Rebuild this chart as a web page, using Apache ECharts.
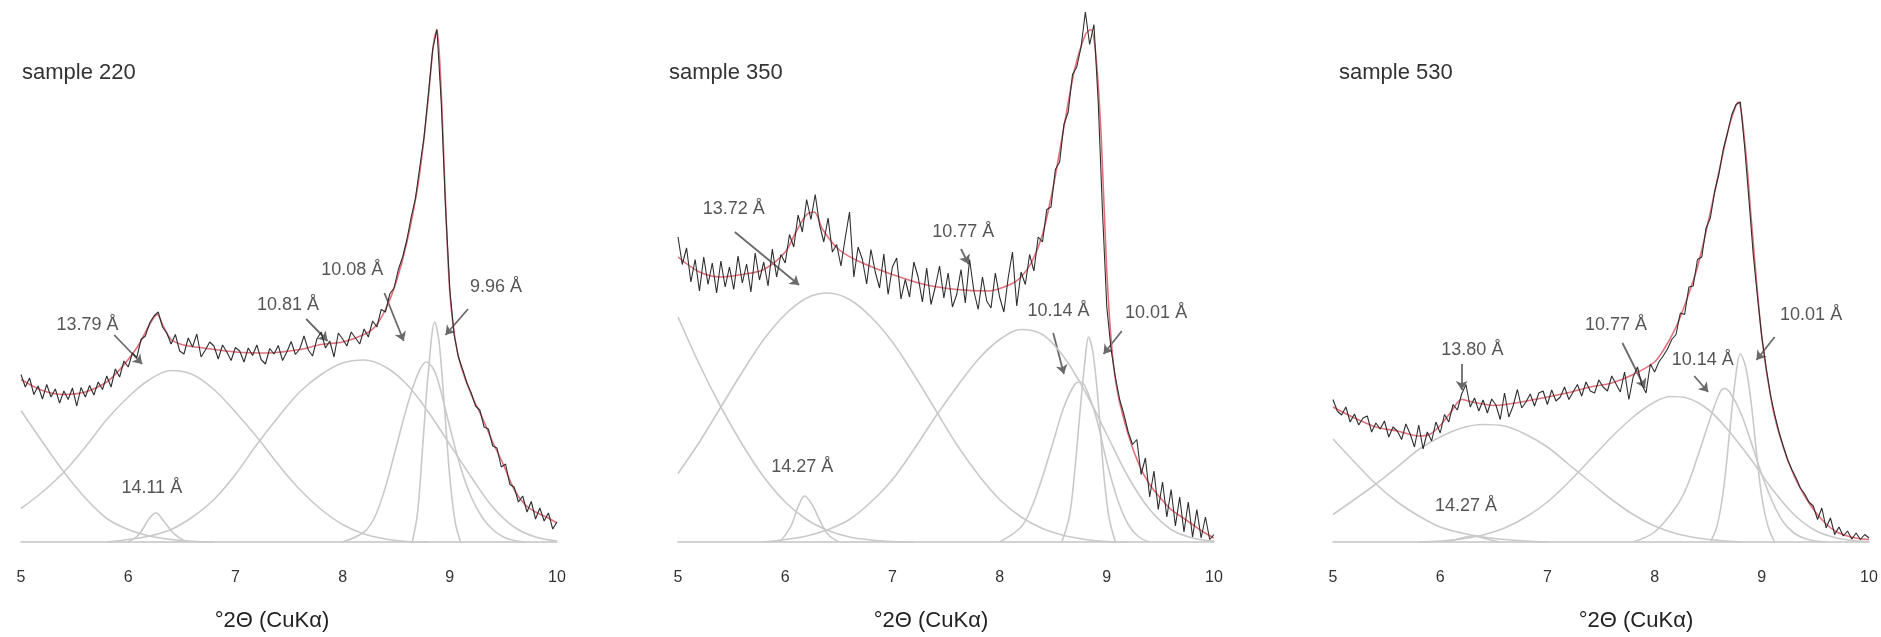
<!DOCTYPE html>
<html><head><meta charset="utf-8">
<script src="https://cdn.jsdelivr.net/npm/echarts@6/dist/echarts.min.js"></script>
<style>html,body{margin:0;padding:0;background:#fff}#c{width:1881px;height:637px}</style>
</head><body><div id="c"></div>
<script>
// ---------- data ----------
const xTicks = [5, 6, 7, 8, 9, 10];
const axisTitle = '°2Θ (CuKα)';
const sampleNames = ['sample 220', 'sample 350', 'sample 530'];
const scanStart = 5.0, scanStep = 0.04; // XRD scan grid of the observed patterns

const s220_obs = [33.5,31.0,32.8,29.5,31.2,28.6,31.5,29.0,30.6,27.8,
30.2,28.5,30.8,27.2,30.9,29.0,31.3,29.4,32.0,30.5,
33.2,31.0,34.6,33.0,36.2,35.0,37.8,36.9,40.5,41.2,
43.8,45.2,46.0,43.0,41.8,39.6,41.5,38.2,37.6,40.8,
39.0,41.6,37.0,38.4,40.0,39.2,36.6,39.4,38.0,36.3,
38.9,38.2,36.0,38.8,37.3,39.4,36.5,35.6,38.7,37.6,
39.3,36.3,38.0,40.1,37.5,38.6,41.2,38.4,37.2,40.6,
42.0,38.8,40.2,37.0,41.8,40.6,39.2,42.0,40.8,39.6,
42.6,41.0,44.2,43.0,46.5,46.0,49.6,50.8,54.5,57.0,
60.5,65.0,68.8,75.0,81.0,89.5,98.5,102.5,88.0,67.0,
50.5,41.5,37.0,34.5,31.8,29.8,27.2,26.4,23.0,22.6,
19.2,18.8,15.0,15.6,11.5,11.0,8.0,9.2,6.0,8.1,
4.6,6.8,4.2,5.8,2.6,4.0];
const s350_obs = [61.0,55.5,58.8,52.0,56.5,50.2,57.0,51.5,55.8,49.8,
56.2,51.0,55.0,50.5,57.2,51.8,55.6,50.0,57.8,52.4,
56.0,51.2,58.6,53.0,57.5,55.8,61.5,59.0,65.4,62.0,
68.5,64.5,69.5,63.5,60.0,64.8,58.0,59.5,55.2,60.8,
66.0,53.0,59.0,56.5,51.6,58.5,54.0,50.8,57.6,49.5,
55.0,56.8,48.6,52.5,49.0,56.0,53.0,48.0,54.8,47.5,
51.0,55.2,48.8,53.8,47.0,49.5,54.5,47.8,56.5,50.2,
46.5,53.0,48.2,46.8,53.8,49.0,46.0,52.8,58.0,47.2,
54.0,51.5,57.5,54.2,61.0,60.0,66.5,67.0,74.5,76.0,
83.5,86.0,93.5,95.0,99.0,106.0,99.5,103.5,88.0,66.0,
47.0,38.5,33.0,28.5,25.5,22.0,19.5,20.5,13.5,16.8,
9.0,14.2,6.5,12.0,5.0,10.5,3.2,9.0,2.0,8.0,
1.0,6.5,0.8,5.0,0.5,1.5];
const s530_obs = [28.5,26.2,25.4,27.0,24.0,25.6,23.4,24.8,25.2,22.0,
23.8,22.6,24.2,21.0,23.0,22.2,20.5,23.6,21.6,19.0,
23.4,18.6,22.0,20.2,24.0,21.8,25.5,24.0,27.5,26.4,
29.6,31.5,27.0,28.8,26.2,28.4,25.8,28.6,27.4,24.5,
29.8,25.0,27.2,30.5,26.8,28.0,29.6,27.2,29.8,30.2,
27.5,30.4,28.2,29.0,31.0,28.5,30.0,31.5,29.2,32.0,
30.2,29.8,32.4,31.0,30.2,33.2,31.6,30.0,34.0,28.5,
33.0,35.0,31.5,29.8,35.6,34.0,36.0,37.2,38.6,40.5,
41.5,45.8,45.5,51.0,51.2,56.5,57.0,62.8,64.8,70.0,
73.6,78.5,81.8,85.5,87.5,88.0,79.0,68.5,57.5,49.0,
41.0,35.0,29.5,25.5,22.0,19.2,16.5,14.5,12.8,10.8,
9.6,8.0,7.2,4.5,6.8,2.8,4.8,1.5,3.0,1.2,
2.2,0.6,1.8,0.5,1.5,0.8];

// fitted sum curves
const s220_fit = [[5.0,32.5],[5.2,30.3],[5.4,29.5],[5.6,30],[5.8,32],[5.9,34],[6.0,36.5],[6.1,39.5],[6.2,43.5],[6.27,45.5],[6.33,43],[6.4,40.5],[6.5,39.5],[6.7,38.8],[7.0,38],[7.3,37.8],[7.6,38.5],[7.8,39.5],[8.0,40],[8.2,41.5],[8.3,43],[8.4,46.5],[8.5,52],[8.6,60],[8.7,71],[8.75,79],[8.8,89],[8.85,100],[8.88,102.5],[8.92,90],[8.96,68],[9.0,50],[9.05,40.5],[9.1,35.5],[9.2,29.5],[9.3,25],[9.4,20],[9.5,15.5],[9.6,10.5],[9.7,7.5],[9.8,6],[9.9,5],[10.0,3.8]];
const s350_fit = [[5.0,57],[5.2,54],[5.4,53],[5.6,53.5],[5.8,54.5],[6.0,58],[6.1,62],[6.2,65.5],[6.27,66],[6.35,62.5],[6.5,58.5],[6.7,56],[7.0,53.5],[7.3,51.5],[7.6,50.5],[7.9,50.2],[8.1,51.5],[8.2,53],[8.3,56],[8.4,61.5],[8.5,71],[8.6,83],[8.7,94.5],[8.8,101.5],[8.85,102.5],[8.9,97],[8.95,80],[9.0,54],[9.05,38],[9.1,30],[9.2,21.5],[9.3,15.5],[9.4,11.5],[9.5,8.8],[9.6,6.5],[9.7,5],[9.8,3.5],[9.9,2],[10.0,0.8]];
const s530_fit = [[5.0,27],[5.2,24.8],[5.4,23],[5.6,22.2],[5.8,21.2],[5.9,21.5],[6.0,23.3],[6.1,26],[6.2,28.5],[6.3,28],[6.5,27.3],[6.7,27.8],[7.0,29],[7.2,29.9],[7.4,31],[7.6,31.8],[7.8,33.5],[8.0,36],[8.1,39],[8.2,43],[8.3,48.5],[8.4,55],[8.5,64],[8.6,74],[8.7,83.5],[8.78,88],[8.85,78],[8.9,65],[9.0,41],[9.1,27],[9.2,19],[9.3,13.3],[9.4,9.2],[9.5,6],[9.6,3.6],[9.7,2],[9.8,1.2],[9.9,0.7],[10.0,0.5]];

// component peaks, sample 220
const s220_c1 = [[5.0,26.3],[5.2,20],[5.4,14],[5.6,8.8],[5.8,4.7],[6.0,2.5],[6.2,1.2],[6.4,0.5],[6.6,0.15],[6.8,0]];
const s220_c2 = [[5.0,6.7],[5.2,10],[5.4,14],[5.6,19],[5.8,24.5],[6.0,29],[6.2,32.5],[6.4,34.3],[6.6,33.5],[6.8,30.5],[7.0,26],[7.2,21],[7.4,15.5],[7.6,10.5],[7.8,6.5],[8.0,3.5],[8.2,1.6],[8.4,0.6],[8.6,0.1],[8.8,0]];
const s220_c3 = [[5.8,0],[6.0,0.5],[6.2,1.2],[6.4,2.5],[6.6,5],[6.8,8.5],[7.0,13.5],[7.2,19.5],[7.4,25],[7.6,30],[7.8,33.5],[8.0,35.8],[8.2,36.4],[8.4,35],[8.6,31.5],[8.8,26],[9.0,19.5],[9.2,13],[9.4,7],[9.6,3],[9.8,1],[10.0,0.2]];
const s220_c4 = [[8.0,0],[8.2,2],[8.3,5],[8.4,11],[8.5,19],[8.6,27],[8.7,33.5],[8.78,36],[8.85,34.5],[8.9,31.5],[9.0,23],[9.1,15],[9.2,9],[9.3,5],[9.4,2.5],[9.5,1],[9.6,0.3],[9.7,0]];
const s220_c5 = [[8.65,0],[8.7,6],[8.75,20],[8.8,34],[8.86,44],[8.9,40],[8.95,27],[9.0,13],[9.05,4],[9.1,0]];
const s220_c6 = [[6.0,0],[6.1,1.5],[6.2,4.8],[6.26,5.8],[6.33,4.2],[6.42,1.8],[6.5,0.5],[6.55,0]];
// sample 350
const s350_c1 = [[5.0,45],[5.2,35.5],[5.4,27],[5.6,19.5],[5.8,13],[6.0,8],[6.2,4.5],[6.4,2.3],[6.6,1],[6.8,0.4],[7.0,0.1],[7.2,0]];
const s350_c2 = [[5.0,13.7],[5.2,20],[5.4,27],[5.6,34],[5.8,40.5],[6.0,45.5],[6.2,48.8],[6.4,49.8],[6.6,48.5],[6.8,45],[7.0,40],[7.2,33.5],[7.4,26.5],[7.6,19.5],[7.8,13.5],[8.0,8.5],[8.2,5],[8.4,2.7],[8.6,1.3],[8.8,0.5],[9.0,0.1],[9.2,0]];
const s350_c3 = [[5.8,0],[6.0,0.5],[6.2,1.2],[6.4,2.5],[6.6,4.5],[6.8,8],[7.0,12.5],[7.2,18.5],[7.4,25],[7.6,31],[7.8,36.5],[8.0,40.5],[8.2,42.5],[8.4,41.5],[8.6,37],[8.8,30],[9.0,21.5],[9.2,13],[9.4,6.5],[9.6,2.5],[9.8,0.8],[10.0,0.2]];
const s350_c4 = [[8.0,0],[8.2,3],[8.3,7],[8.4,13],[8.5,20],[8.6,27],[8.7,31.5],[8.75,32],[8.8,31],[8.9,25],[9.0,16],[9.1,8.5],[9.2,3.5],[9.3,1],[9.4,0]];
const s350_c5 = [[8.58,0],[8.65,5],[8.7,14],[8.75,26],[8.8,37],[8.83,41],[8.87,38],[8.92,28],[8.97,14],[9.02,5],[9.08,0]];
const s350_c6 = [[5.95,0],[6.05,3],[6.12,7],[6.18,9.2],[6.25,7.5],[6.33,4],[6.4,1.5],[6.5,0]];
// sample 530
const s530_c1 = [[5.0,20.6],[5.2,16],[5.4,11.6],[5.6,8],[5.8,5.2],[6.0,3],[6.2,1.8],[6.4,1],[6.6,0.5],[6.8,0.2],[7.0,0]];
const s530_c2 = [[5.0,5.5],[5.2,8.5],[5.4,11.6],[5.6,15],[5.8,18.5],[6.0,21],[6.2,22.8],[6.4,23.5],[6.6,23.2],[6.8,21.5],[7.0,19],[7.2,15.5],[7.4,12],[7.6,8.5],[7.8,5.5],[8.0,3.2],[8.2,1.7],[8.4,0.8],[8.6,0.3],[8.8,0]];
const s530_c3 = [[5.8,0],[6.0,0.2],[6.2,0.6],[6.4,1.4],[6.6,2.8],[6.8,5],[7.0,8],[7.2,12],[7.4,16.5],[7.6,21],[7.8,25],[8.0,28],[8.15,29.1],[8.3,28.8],[8.5,26.5],[8.7,22],[8.9,16.5],[9.1,10.5],[9.3,5.5],[9.5,2.3],[9.7,0.8],[9.9,0.2],[10.0,0.1]];
const s530_c4 = [[7.8,0],[8.0,2],[8.2,7],[8.3,11],[8.4,17],[8.5,23.5],[8.6,29.5],[8.65,30.7],[8.7,30],[8.8,26],[8.9,20],[9.0,13.5],[9.1,8],[9.2,4],[9.3,1.8],[9.4,0.7],[9.5,0.2],[9.6,0]];
const s530_c5 = [[8.52,0],[8.58,3],[8.64,10],[8.7,22],[8.75,32],[8.8,37.6],[8.85,35],[8.9,28],[8.95,18],[9.0,9],[9.06,3],[9.12,0]];
const s530_c6 = [[6.05,0],[6.2,0.8],[6.3,1.2],[6.4,0.8],[6.55,0]];

// d-spacing annotations: label text and anchor [2θ, intensity]
const s220_labels = [['13.79 Å',5.62,43.4],['14.11 Å',6.22,10.8],['10.81 Å',7.49,47.4],['10.08 Å',8.09,54.4],['9.96 Å',9.43,51]];
const s350_labels = [['13.72 Å',5.52,66.6],['14.27 Å',6.16,15],['10.77 Å',7.66,62],['10.14 Å',8.55,46.2],['10.01 Å',9.46,45.8]];
const s530_labels = [['13.80 Å',6.3,38.4],['14.27 Å',6.24,7.2],['10.77 Å',7.64,43.4],['10.14 Å',8.45,36.4],['10.01 Å',9.46,45.4]];
// arrows: [from x, from y, to x, to y]
const s220_arrows = [[5.87,41.4,6.13,35.6],[7.66,44.6,7.86,40.2],[8.39,49.8,8.57,40.2],[9.17,46.6,8.96,41.4]];
const s350_arrows = [[5.53,62,6.13,51.4],[7.64,58.6,7.71,55.6],[8.5,41.8,8.6,33.6],[9.14,42.2,8.97,37.6]];
const s530_arrows = [[6.2,35.6,6.2,30.4],[7.7,39.8,7.91,30.8],[8.37,33.2,8.5,30],[9.12,41,8.95,36.4]];

// ---------- chart ----------
const panels = [
  {obs: s220_obs, fit: s220_fit, comps: [s220_c1,s220_c2,s220_c3,s220_c4,s220_c5,s220_c6], labels: s220_labels, arrows: s220_arrows},
  {obs: s350_obs, fit: s350_fit, comps: [s350_c1,s350_c2,s350_c3,s350_c4,s350_c5,s350_c6], labels: s350_labels, arrows: s350_arrows},
  {obs: s530_obs, fit: s530_fit, comps: [s530_c1,s530_c2,s530_c3,s530_c4,s530_c5,s530_c6], labels: s530_labels, arrows: s530_arrows}
];
const FONT = '"Liberation Sans", Arial, Helvetica, sans-serif';
const gridLefts = [21, 678, 1333];
const gridWidth = 536;
const titleLefts = [17, 664, 1334];
const namePads = [[0,34,0,0],[0,30,0,0],[0,0,0,70]];

const grids = [], xAxes = [], yAxes = [], series = [], titles = [];
panels.forEach((p, i) => {
  grids.push({left: gridLefts[i], width: gridWidth, top: 2, height: 540, containLabel: false});
  xAxes.push({
    type: 'value', gridIndex: i, min: xTicks[0], max: xTicks[xTicks.length-1], interval: 1,
    axisLine: {show: true, lineStyle: {color: '#c4c4c4', width: 1.5}},
    axisTick: {show: false}, splitLine: {show: false},
    axisLabel: {color: '#333', fontSize: 16, fontFamily: FONT, margin: 28},
    name: axisTitle, nameLocation: 'middle', nameGap: 68,
    nameTextStyle: {color: '#222', fontSize: 22, fontFamily: FONT, padding: namePads[i]}
  });
  yAxes.push({type: 'value', gridIndex: i, min: 0, max: 108, show: false});
  titles.push({text: sampleNames[i], left: titleLefts[i], top: 57,
    textStyle: {color: '#333', fontSize: 22, fontWeight: 'normal', fontFamily: FONT}});

  p.comps.forEach(c => series.push({
    type: 'line', xAxisIndex: i, yAxisIndex: i, data: c, showSymbol: false,
    smooth: 0.35, silent: true,
    lineStyle: {color: '#c9c9c9', width: 1.6}
  }));
  series.push({
    type: 'line', xAxisIndex: i, yAxisIndex: i, showSymbol: false, silent: true,
    data: p.fit, smooth: 0.3,
    lineStyle: {color: '#e0606c', width: 1.6, opacity: 0.9}
  });
  series.push({
    type: 'line', xAxisIndex: i, yAxisIndex: i, showSymbol: false, silent: true,
    data: p.obs.map((v, k) => [scanStart + k * scanStep, v]),
    lineStyle: {color: '#2e2e2e', width: 1.1}
  });
  series.push({
    type: 'lines', coordinateSystem: 'cartesian2d', xAxisIndex: i, yAxisIndex: i, silent: true,
    symbol: ['none', 'arrow'], symbolSize: 9,
    lineStyle: {color: '#6a6a6a', width: 1.8, opacity: 1, curveness: 0},
    data: p.arrows.map(a => ({coords: [[a[0], a[1]], [a[2], a[3]]]}))
  });
  series.push({
    type: 'scatter', xAxisIndex: i, yAxisIndex: i, silent: true, symbolSize: 1,
    itemStyle: {color: 'rgba(0,0,0,0)'},
    data: p.labels.map(l => ({name: l[0], value: [l[1], l[2]]})),
    label: {show: true, position: 'inside', formatter: '{b}', color: '#2a2a2a', fontSize: 18, fontFamily: FONT}
  });
});

const chart = echarts.init(document.getElementById('c'), null, {renderer: 'canvas'});
chart.setOption({
  animation: false, backgroundColor: '#fff',
  title: titles, grid: grids, xAxis: xAxes, yAxis: yAxes, series: series
});
</script></body></html>
